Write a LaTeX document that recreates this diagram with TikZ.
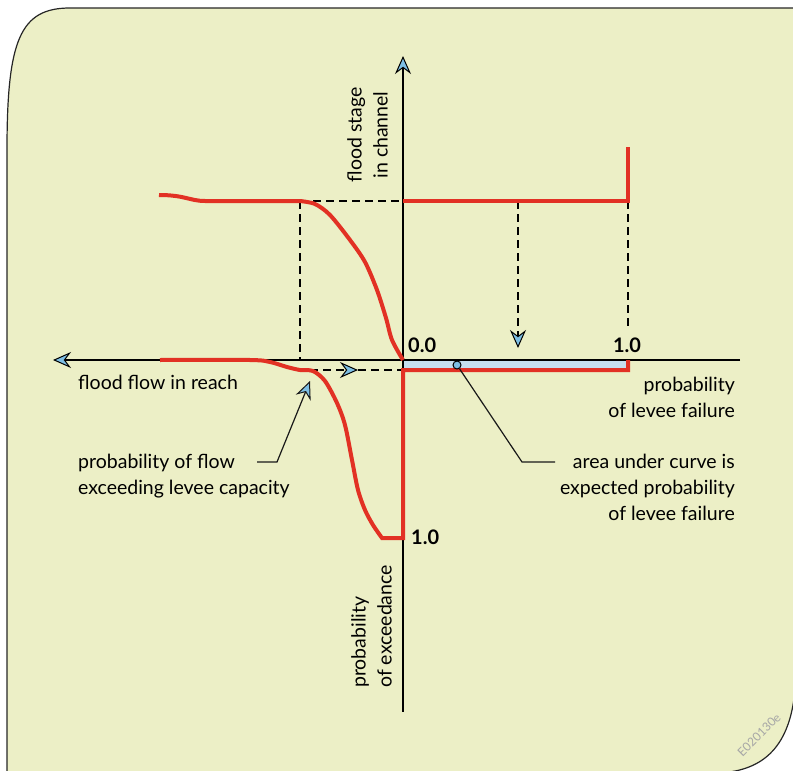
\documentclass[tikz,border=0pt]{standalone}
\usepackage{fontspec}
\setmainfont{Lato}
\usetikzlibrary{arrows.meta}

\definecolor{panelbg}{RGB}{236,239,198}
\definecolor{curvered}{RGB}{226,49,36}
\definecolor{tipblue}{RGB}{125,190,228}
\definecolor{areablue}{RGB}{198,222,238}

\tikzset{
  bluetip/.tip={Stealth[length=18pt,width=16pt,inset=6pt,fill=tipblue,line width=1pt]},
  axisline/.style={line width=2pt,-bluetip},
  redline/.style={curvered,line width=4pt},
  dashline/.style={line width=1.8pt,dash pattern=on 8pt off 5pt},
  leader/.style={line width=1.2pt,black!90},
  labeltext/.style={font=\fontsize{19.5}{26}\selectfont,inner sep=0pt},
  numtext/.style={font=\fontsize{20}{22}\selectfont\bfseries,inner sep=0pt},
}

\begin{document}
\begin{tikzpicture}[x=1pt,y=-1pt]
  \useasboundingbox (0,0) rectangle (793,771);
  % Panel
  \filldraw[fill=panelbg,draw=black!85,line width=1.2pt]
    (7,773) -- (7,150) .. controls (7,40) and (20,8) .. (70,8) -- (800,8)
    -- (800,650) -- (795,690) .. controls (790,745) and (765,771) .. (718,773) -- cycle;

  % Coordinates
  \coordinate (origin) at (403,360);
  \coordinate (ytop) at (403,56);
  \coordinate (ybot) at (403,712);
  \coordinate (xleft) at (53,360);
  \coordinate (xright) at (740,360);

  % Area under curve
  \fill[areablue] (403,361) rectangle (628,370);

  % Axes
  \draw[line width=2pt] (origin) -- (ybot);
  \draw[axisline] (origin) -- (ytop);
  \draw[axisline] (xright) -- (xleft);

  % Dashed guides
  \coordinate (kneetop) at (300,201);
  \coordinate (kneeaxis) at (300,360);
  \coordinate (stageaxis) at (403,201);
  \coordinate (flowstart) at (310,370);
  \coordinate (flowmid) at (358,370);
  \coordinate (flowend) at (403,370);
  \coordinate (failtop) at (518,201);
  \coordinate (failtip) at (518,348);
  \coordinate (onetop) at (628,201);
  \coordinate (onebot) at (628,330);
  \draw[dashline] (kneetop) -- (stageaxis);
  \draw[dashline] (kneetop) -- (kneeaxis);
  \draw[dashline,-bluetip] (flowstart) -- (flowmid);
  \draw[dashline] (flowmid) -- (flowend);
  \draw[dashline,-bluetip] (failtop) -- (failtip);
  \draw[dashline] (onetop) -- (onebot);

  % Curves
  \draw[redline] (159,195) .. controls (185,195) and (190,201) .. (205,201) -- (kneetop)
    plot[smooth] coordinates {(300,201) (315,204) (330,215) (350,240) (365,262) (377,290) (386,318) (392,340) (403,360)};
  \draw[redline] plot[smooth] coordinates {(160,360) (250,360) (270,362) (287,367) (300,370) (313,371) (325,381) (337,403) (345,425) (352,460) (358,490) (365,510) (373,525) (382,538)}
    -- (403,538) -- (flowend) -- (628,370) -- (628,360);
  \draw[redline] (stageaxis) -- (onetop) -- (628,147);

  % Labels
  \node[labeltext, rotate=90, anchor=north, align=center] (stagetext) at (347,135) {flood stage\\in channel};
  \node[labeltext, rotate=90, anchor=north west, align=left] (exceedtext) at (351,688) {probability\\of exceedance};
  \node[labeltext, anchor=north west] (flowtext) at (78,375) {flood flow in reach};
  \node[labeltext, anchor=north west, align=left] (captext) at (78,454) {probability of flow\\exceeding levee capacity};
  \node[labeltext, anchor=north east, align=right] (failtext) at (735,377) {probability\\of levee failure};
  \node[labeltext, anchor=north east, align=right] (areatext) at (735,454) {area under curve is\\expected probability\\of levee failure};
  \node[numtext, anchor=south west] (zerolabel) at (408,353) {0.0};
  \node[numtext, anchor=south] (onelabel) at (627,353) {1.0};
  \node[numtext, anchor=west] (onedown) at (411,537) {1.0};
  \node[text=black!35, font=\fontsize{12}{12}\selectfont, rotate=45] (drawingcode) at (759,735) {E020130e};

  % Leaders
  \node[circle, draw, fill=tipblue, inner sep=0pt, minimum size=8pt, line width=1pt] (areadot) at (457,365) {};
  \coordinate (areabend) at (522,462);
  \coordinate (areastart) at (555,462);
  \draw[leader] (areadot) -- (areabend) -- (areastart);
  \coordinate (capstart) at (257,462);
  \coordinate (capbend) at (277,462);
  \coordinate (captip) at (310,381);
  \draw[leader,-bluetip] (capstart) -- (capbend) -- (captip);
\end{tikzpicture}
\end{document}
